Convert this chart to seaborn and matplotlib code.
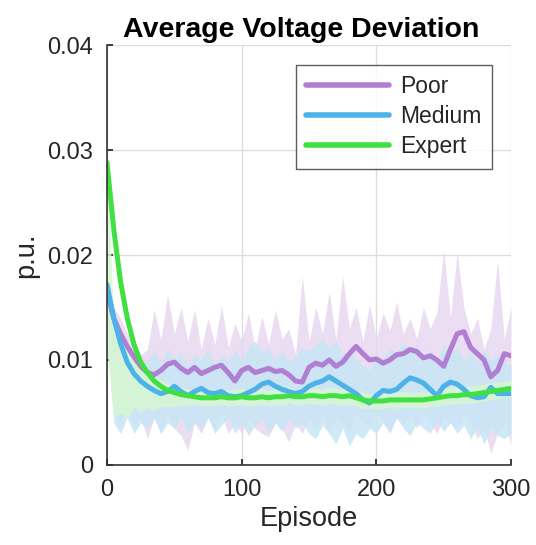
import matplotlib
matplotlib.use('Agg')
import matplotlib.pyplot as plt
import seaborn as sns
import pandas as pd

episodes = list(range(0, 301, 5))

poor_mean = [0.0165, 0.0140, 0.0125, 0.0113, 0.0103, 0.0094, 0.0088, 0.0086, 0.0090, 0.0096,
             0.0098, 0.0092, 0.0088, 0.0093, 0.0087, 0.0090, 0.0093, 0.0095, 0.0088, 0.0080,
             0.0090, 0.0093, 0.0088, 0.0090, 0.0092, 0.0089, 0.0090, 0.0086, 0.0080, 0.0079,
             0.0093, 0.0097, 0.0095, 0.0100, 0.0094, 0.0098, 0.0106, 0.0113, 0.0106, 0.0100,
             0.0101, 0.0097, 0.0100, 0.0105, 0.0106, 0.0110, 0.0108, 0.0102, 0.0104, 0.0100,
             0.0094, 0.0110, 0.0125, 0.0127, 0.0112, 0.0106, 0.0100, 0.0084, 0.0090, 0.0106,
             0.0104]
poor_low = [0.0120, 0.0050, 0.0040, 0.0060, 0.0035, 0.0045, 0.0025, 0.0045, 0.0030, 0.0050,
            0.0035, 0.0028, 0.0014, 0.0040, 0.0030, 0.0045, 0.0035, 0.0048, 0.0030, 0.0040,
            0.0030, 0.0045, 0.0035, 0.0030, 0.0027, 0.0040, 0.0035, 0.0022, 0.0040, 0.0030,
            0.0045, 0.0035, 0.0050, 0.0030, 0.0045, 0.0040, 0.0030, 0.0050, 0.0040, 0.0035,
            0.0050, 0.0040, 0.0030, 0.0045, 0.0038, 0.0048, 0.0035, 0.0050, 0.0040, 0.0030,
            0.0045, 0.0040, 0.0035, 0.0050, 0.0040, 0.0025, 0.0035, 0.0011, 0.0030, 0.0040,
            0.0020]
poor_high = [0.0175, 0.0150, 0.0140, 0.0125, 0.0118, 0.0105, 0.0110, 0.0148, 0.0120, 0.0162,
             0.0125, 0.0150, 0.0118, 0.0148, 0.0110, 0.0140, 0.0115, 0.0152, 0.0112, 0.0135,
             0.0118, 0.0145, 0.0110, 0.0142, 0.0115, 0.0148, 0.0120, 0.0130, 0.0105, 0.0180,
             0.0118, 0.0150, 0.0125, 0.0165, 0.0120, 0.0180, 0.0130, 0.0150, 0.0118, 0.0153,
             0.0120, 0.0145, 0.0128, 0.0155, 0.0125, 0.0140, 0.0120, 0.0150, 0.0130, 0.0145,
             0.0205, 0.0140, 0.0203, 0.0150, 0.0125, 0.0140, 0.0110, 0.0130, 0.0195, 0.0120,
             0.0150]

medium_mean = [0.0172, 0.0140, 0.0116, 0.0098, 0.0087, 0.0080, 0.0075, 0.0071, 0.0068, 0.0070,
               0.0075, 0.0070, 0.0066, 0.0070, 0.0073, 0.0069, 0.0068, 0.0070, 0.0066, 0.0065,
               0.0066, 0.0069, 0.0072, 0.0077, 0.0079, 0.0075, 0.0072, 0.0070, 0.0068, 0.0070,
               0.0075, 0.0078, 0.0080, 0.0084, 0.0080, 0.0076, 0.0072, 0.0068, 0.0062, 0.0059,
               0.0066, 0.0071, 0.0070, 0.0072, 0.0078, 0.0083, 0.0081, 0.0078, 0.0072, 0.0066,
               0.0075, 0.0079, 0.0077, 0.0072, 0.0066, 0.0064, 0.0065, 0.0074, 0.0068, 0.0068,
               0.0068]
medium_low = [0.0120, 0.0040, 0.0030, 0.0045, 0.0030, 0.0040, 0.0035, 0.0045, 0.0030, 0.0040,
              0.0035, 0.0045, 0.0030, 0.0040, 0.0035, 0.0045, 0.0030, 0.0038, 0.0045, 0.0030,
              0.0040, 0.0028, 0.0038, 0.0045, 0.0030, 0.0040, 0.0032, 0.0045, 0.0035, 0.0040,
              0.0030, 0.0025, 0.0038, 0.0030, 0.0020, 0.0035, 0.0018, 0.0030, 0.0025, 0.0035,
              0.0030, 0.0040, 0.0032, 0.0045, 0.0035, 0.0028, 0.0040, 0.0035, 0.0030, 0.0042,
              0.0032, 0.0040, 0.0030, 0.0038, 0.0025, 0.0035, 0.0020, 0.0035, 0.0028, 0.0025,
              0.0030]
medium_high = [0.0175, 0.0150, 0.0120, 0.0110, 0.0105, 0.0100, 0.0098, 0.0110, 0.0095, 0.0112,
               0.0100, 0.0108, 0.0095, 0.0105, 0.0100, 0.0112, 0.0095, 0.0105, 0.0098, 0.0110,
               0.0100, 0.0112, 0.0118, 0.0108, 0.0112, 0.0100, 0.0110, 0.0098, 0.0105, 0.0112,
               0.0108, 0.0115, 0.0120, 0.0112, 0.0118, 0.0105, 0.0110, 0.0100, 0.0095, 0.0090,
               0.0105, 0.0100, 0.0112, 0.0105, 0.0118, 0.0110, 0.0115, 0.0102, 0.0110, 0.0098,
               0.0115, 0.0105, 0.0112, 0.0100, 0.0108, 0.0095, 0.0110, 0.0100, 0.0105, 0.0098,
               0.0095]

expert_mean = [0.0288, 0.0225, 0.0175, 0.0140, 0.0115, 0.0098, 0.0088, 0.0080, 0.0075, 0.0071,
               0.0069, 0.0067, 0.0066, 0.0065, 0.0064, 0.0064, 0.0064, 0.0065, 0.0064, 0.0064,
               0.0065, 0.0064, 0.0064, 0.0065, 0.0064, 0.0065, 0.0065, 0.0066, 0.0065, 0.0065,
               0.0066, 0.0066, 0.0065, 0.0066, 0.0066, 0.0065, 0.0066, 0.0064, 0.0062, 0.0061,
               0.0061, 0.0061, 0.0062, 0.0062, 0.0062, 0.0062, 0.0062, 0.0062, 0.0063, 0.0064,
               0.0065, 0.0066, 0.0066, 0.0067, 0.0067, 0.0068, 0.0069, 0.0070, 0.0071, 0.0072,
               0.0073]
expert_low = [0.0110, 0.0045, 0.0050, 0.0045, 0.0055, 0.0050, 0.0055, 0.0052, 0.0056, 0.0055,
              0.0056, 0.0057, 0.0057, 0.0058, 0.0056, 0.0057, 0.0056, 0.0058, 0.0056, 0.0057,
              0.0058, 0.0056, 0.0057, 0.0058, 0.0056, 0.0058, 0.0057, 0.0059, 0.0057, 0.0058,
              0.0059, 0.0058, 0.0057, 0.0059, 0.0058, 0.0057, 0.0058, 0.0056, 0.0054, 0.0054,
              0.0053, 0.0054, 0.0055, 0.0054, 0.0055, 0.0054, 0.0055, 0.0054, 0.0056, 0.0056,
              0.0057, 0.0058, 0.0058, 0.0059, 0.0059, 0.0060, 0.0061, 0.0062, 0.0063, 0.0064,
              0.0065]
expert_high = [0.0290, 0.0135, 0.0120, 0.0110, 0.0100, 0.0095, 0.0088, 0.0085, 0.0080, 0.0078,
               0.0076, 0.0074, 0.0073, 0.0072, 0.0071, 0.0072, 0.0071, 0.0073, 0.0071, 0.0072,
               0.0073, 0.0071, 0.0072, 0.0073, 0.0071, 0.0073, 0.0072, 0.0074, 0.0072, 0.0073,
               0.0074, 0.0073, 0.0072, 0.0074, 0.0073, 0.0072, 0.0074, 0.0071, 0.0069, 0.0068,
               0.0068, 0.0069, 0.0070, 0.0069, 0.0070, 0.0069, 0.0070, 0.0069, 0.0071, 0.0072,
               0.0073, 0.0074, 0.0074, 0.0075, 0.0075, 0.0076, 0.0077, 0.0078, 0.0079, 0.0080,
               0.0081]

labels = ['Poor', 'Medium', 'Expert']
colors = {'Poor': '#b07ed2', 'Medium': '#4cb2e8', 'Expert': '#40e040'}
band_colors = {'Poor': '#e8d7f0', 'Medium': '#c8e6f5', 'Expert': '#d7f8d2'}

sns.set_theme(style='white')
plt.rcParams['font.family'] = ['Liberation Sans', 'DejaVu Sans']

df = pd.DataFrame({
    'Episode': episodes * 3,
    'value': poor_mean + medium_mean + expert_mean,
    'level': ['Poor'] * 61 + ['Medium'] * 61 + ['Expert'] * 61,
})

fig = plt.figure(figsize=(5.36, 5.45), dpi=100)
ax = fig.add_axes([0.1996, 0.1468, 0.7538, 0.7706])

# shaded spread per skill level
bands = [(poor_low, poor_high, 'Poor'), (medium_low, medium_high, 'Medium'),
         (expert_low, expert_high, 'Expert')]
for lo, hi, name in bands:
    ax.fill_between(episodes, lo, hi, color=band_colors[name], alpha=0.85, linewidth=0)

sns.lineplot(data=df, x='Episode', y='value', hue='level', hue_order=labels,
             palette=colors, linewidth=3.6, ax=ax)

ax.set_xlim(0, 300)
ax.set_ylim(0, 0.04)
ax.set_xticks([0, 100, 200, 300])
ax.set_yticks([0, 0.01, 0.02, 0.03, 0.04])
ax.set_yticklabels(['0', '0.01', '0.02', '0.03', '0.04'])
ax.grid(True, color='#dddddd', linewidth=1)
ax.tick_params(direction='in', length=4, labelsize=17, colors='#262626',
               bottom=True, left=True)
ax.tick_params(axis='x', pad=10)
ax.tick_params(axis='y', pad=10)
for side in ['top', 'right']:
    ax.spines[side].set_visible(False)
for side in ['left', 'bottom']:
    ax.spines[side].set_color('#333333')
    ax.spines[side].set_linewidth(1.2)

ax.set_xlabel('Episode', fontsize=19.5, labelpad=4, color='#262626')
ax.set_ylabel('p.u.', fontsize=19.5, labelpad=6, color='#262626')
ax.set_title('Average Voltage Deviation', fontsize=20.5, fontweight='bold',
             pad=6, color='black', x=0.48)

leg = ax.legend(loc='upper right', bbox_to_anchor=(0.953, 0.952), borderaxespad=0,
                fontsize=16.5, handlelength=3.6, frameon=True, fancybox=False,
                edgecolor='#333333', labelspacing=0.3, handletextpad=0.5,
                borderpad=0.45)
leg.get_frame().set_linewidth(1.0)
for line in leg.get_lines():
    line.set_linewidth(4)

fig.savefig('out.png', dpi=100)
